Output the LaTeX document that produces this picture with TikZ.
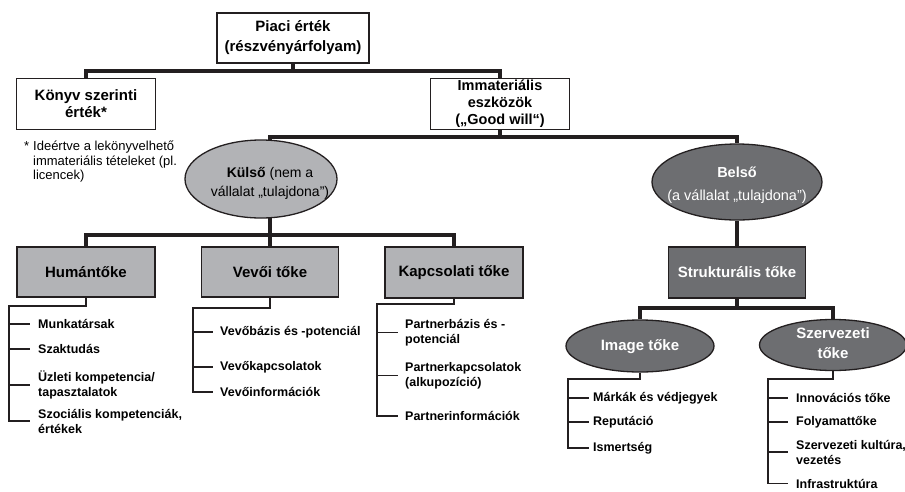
\documentclass[tikz,border=0pt]{standalone}
\usepackage{fontspec}
\setmainfont{Liberation Sans}
\usetikzlibrary{shapes.geometric}
\definecolor{lineC}{RGB}{35,31,32}
\definecolor{lightG}{RGB}{178,179,182}
\definecolor{darkG}{RGB}{109,110,113}
\newcommand{\myfs}[2]{\fontsize{#1}{#2}\selectfont}
\tikzset{
  conn/.style={draw=lineC, line width=3.2pt, line join=miter},
  listl/.style={draw=lineC, line width=1.9pt, line join=miter},
  boxbase/.style={draw=lineC, line width=1.3pt, rectangle, inner sep=0pt, align=center, font=\bfseries\myfs{15}{17}},
  wbox/.style={boxbase, fill=white, minimum width=139pt, minimum height=51pt},
  gbox/.style={boxbase, fill=lightG, minimum width=138pt, minimum height=50pt},
  dbox/.style={boxbase, fill=darkG, text=white, minimum width=137pt, minimum height=51pt},
  ell/.style={ellipse, draw=lineC, line width=1.3pt, inner sep=0pt},
  etext/.style={align=center, inner sep=0pt},
  item/.style={anchor=west, inner xsep=7pt, inner ysep=0pt, align=left, font=\bfseries\myfs{12.5}{15}}
}
\begin{document}
\begin{tikzpicture}[x=1pt,y=-1pt]
\useasboundingbox (0,0) rectangle (905,491);
% top level
\node[wbox, minimum width=152pt, minimum height=50pt, font=\bfseries\myfs{15}{20}] (piaci) at (293,38) {Piaci érték\\(részvényárfolyam)};
\node[wbox] (konyv) at (86,104) {Könyv szerinti\\érték*};
\node[wbox, font=\bfseries\myfs{14.5}{17}] (immat) at (500,104) {Immateriális\\eszközök\\(„Good will“)};
\node[anchor=west, align=left, inner sep=0pt, font=\myfs{13}{14.5}] (foot) at (33,162) {\llap{*\hspace{4pt}}Ideértve a lekönyvelhető\\immateriális tételeket (pl.\\licencek)};
\coordinate (j1) at (293,71);
\draw[conn] (piaci.south) -- (j1);
\draw[conn] (konyv.north) |- (j1) -| (immat.north);
% ellipses level
\node[ell, fill=lightG, minimum width=152pt, minimum height=78pt] (kulso) at (261,179) {};
\node[etext, font=\myfs{14}{19}] (kulsoT) at (270,183) {\textbf{Külső} (nem a\\vállalat „tulajdona")};
\node[ell, fill=darkG, minimum width=170pt, minimum height=76pt] (belso) at (737,182) {};
\node[etext, text=white, font=\myfs{14.5}{23}] (belsoT) at (737,185) {\textbf{Belső}\\(a vállalat „tulajdona")};
\coordinate (j2) at (500,137);
\coordinate (kulsoTop) at (270,140.5);
\coordinate (kulsoBot) at (270,217.5);
\draw[conn] (immat.south) -- (j2);
\draw[conn] (kulsoTop) |- (j2) -| (belso.north);
% capital boxes
\node[gbox] (hum) at (86,272) {Humántőke};
\node[gbox, minimum width=137pt] (vevoi) at (270,272) {Vevői tőke};
\node[gbox, minimum height=51pt] (kapcs) at (454,272.5) {Kapcsolati tőke};
\node[dbox] (strukt) at (737,272.5) {Strukturális tőke};
\coordinate (j3) at (270,235);
\draw[conn] (kulsoBot) -- (j3);
\draw[conn] (hum.north) |- (j3) -| (kapcs.north);
\draw[conn] (j3) -- (vevoi.north);
\draw[conn] (belso.south) -- (strukt.north);
% structural sub-ellipses
\node[ell, fill=darkG, minimum width=148pt, minimum height=52pt] (image) at (640,346) {};
\node[etext, text=white, font=\bfseries\myfs{15}{20}] (imageT) at (640,347) {Image tőke};
\node[ell, fill=darkG, minimum width=147pt, minimum height=51pt] (szerv) at (833,345) {};
\node[etext, text=white, font=\bfseries\myfs{15}{20}] (szervT) at (833,343) {Szervezeti\\tőke};
\coordinate (j4) at (737,308);
\draw[conn] (strukt.south) -- (j4);
\draw[conn] (image.north) |- (j4) -| (szerv.north);
% Humántőke list
\node[item, inner xsep=8pt] (h1) at (30,324) {Munkatársak};
\node[item, inner xsep=8pt] (h2) at (30,349) {Szaktudás};
\node[item, inner xsep=8pt] (h3) at (30,385) {Üzleti kompetencia/\\tapasztalatok};
\node[item, inner xsep=8pt] (h4) at (30,421) {Szociális kompetenciák,\\értékek};
\coordinate (hs) at (9,306);
\draw[listl] (hum.south) |- (hs) -- (hs |- h4.west) -- (h4.west);
\foreach \n in {h1,h2,h3} \draw[listl] (hs |- \n.west) -- (\n.west);
% Vevői list
\node[item] (v1) at (213,332) {Vevőbázis és -potenciál};
\node[item] (v2) at (213,367) {Vevőkapcsolatok};
\node[item] (v3) at (213,392) {Vevőinformációk};
\coordinate (vs) at (193,308);
\draw[listl] (vevoi.south) |- (vs) -- (vs |- v3.west) -- (v3.west);
\foreach \n in {v1,v2} \draw[listl] (vs |- \n.west) -- (\n.west);
% Kapcsolati list
\node[item] (k1) at (398,332.5) {Partnerbázis és -\\potenciál};
\node[item] (k2) at (398,375.5) {Partnerkapcsolatok\\(alkupozíció)};
\node[item] (k3) at (398,416) {Partnerinformációk};
\coordinate (ks) at (377,304);
\draw[listl] (kapcs.south) |- (ks) -- (ks |- k3.west) -- (k3.west);
\foreach \n in {k1,k2} \draw[listl] (ks |- \n.west) -- (\n.west);
% Image list
\node[item, inner xsep=4pt] (i1) at (589,398) {Márkák és védjegyek};
\node[item, inner xsep=4pt] (i2) at (589,422) {Reputáció};
\node[item, inner xsep=4pt] (i3) at (589,448) {Ismertség};
\coordinate (is) at (568,379);
\draw[listl] (image.south) |- (is) -- (is |- i3.west) -- (i3.west);
\foreach \n in {i1,i2} \draw[listl] (is |- \n.west) -- (\n.west);
% Szervezeti list
\node[item, inner xsep=8pt] (s1) at (788,398) {Innovációs tőke};
\node[item, inner xsep=8pt] (s2) at (788,422) {Folyamattőke};
\node[item, inner xsep=8pt] (s3) at (788,452) {Szervezeti kultúra,\\vezetés};
\node[item, inner xsep=8pt] (s4) at (788,483.5) {Infrastruktúra};
\coordinate (ss) at (768,379);
\draw[listl] (szerv.south) |- (ss) -- (ss |- s4.west) -- (s4.west);
\foreach \n in {s1,s2,s3} \draw[listl] (ss |- \n.west) -- (\n.west);
\end{tikzpicture}
\end{document}
